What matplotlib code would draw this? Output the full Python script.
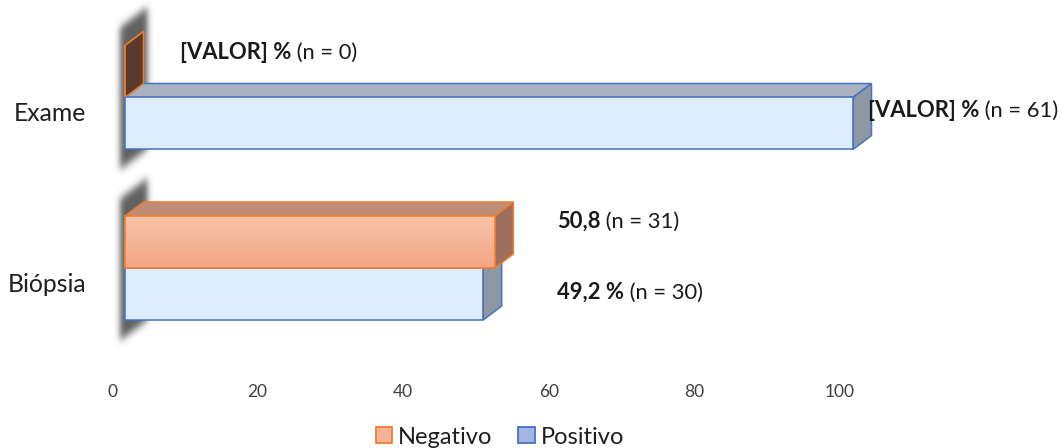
import numpy as np
import matplotlib
matplotlib.use("Agg")
import matplotlib.pyplot as plt
from matplotlib.patches import Polygon, Rectangle, Patch
from matplotlib.transforms import ScaledTranslation

# ---------------- data ----------------
categories = ["Biópsia", "Exame"]
negativo = [50.8, 0.0]
positivo = [49.2, 100.0]
neg_bold = ["50,8", "[VALOR] %"]
neg_rest = [" (n = 31)", " (n = 0)"]
pos_bold = ["49,2 %", "[VALOR] %"]
pos_rest = [" (n = 30)", " (n = 61)"]
xticks = [0, 20, 40, 60, 80, 100]
series_names = ["Negativo", "Positivo"]

# ---------------- style ----------------
FONT = "Lato"
plt.rcParams["font.family"] = [FONT, "DejaVu Sans"]
W, H, DPI = 10.61, 4.48, 100
fig = plt.figure(figsize=(W, H), dpi=DPI)
PXW, PXH = W * DPI, H * DPI

# axes placement (pixels from top-left)
ax_l, ax_r, ax_t, ax_b = 125, 853, 10, 360
ax = fig.add_axes([ax_l / PXW, 1 - ax_b / PXH, (ax_r - ax_l) / PXW, (ax_b - ax_t) / PXH])
cat_px = 170.5            # pixels per category unit
cat0_px = 268             # pixel row of first category centre
ax.set_xlim(0, 100)
ax.set_ylim((cat0_px - ax_b) / cat_px, (cat0_px - ax_t) / cat_px)
for s in ax.spines.values():
    s.set_visible(False)

xpx = (ax_r - ax_l) / 100.0
DX_PX, DY_PX = 18.5, 14.0
depth_x = DX_PX / xpx
depth_y = DY_PX / cat_px
bar_h = 52.0 / cat_px

neg_edge = "#ED7D31"
neg_top = "#BF8C77"
neg_side = "#9E705C"
neg_side_zero = "#5C3A2B"
pos_face = "#DFECFC"
pos_edge = "#4472C4"
pos_top = "#A9B3BF"
pos_side = "#8E98A3"

ypos = np.arange(len(categories))


def blur1d(a, sigma, axis):
    r = int(3 * sigma) + 1
    k = np.exp(-0.5 * (np.arange(-r, r + 1) / sigma) ** 2)
    k /= k.sum()
    return np.apply_along_axis(lambda m: np.convolve(m, k, mode="same"), axis, a)


def shadow(front_bottom, front_top):
    # soft shadow of the bar group's left cap (pixel-space construction)
    step = 0.5
    u = np.arange(-20, 40, step)                       # px right of bar origin
    ybot_px = front_bottom * cat_px - 40
    ytop_px = front_top * cat_px + DY_PX + 50
    v = np.arange(ybot_px, ytop_px, step)              # px upward (data*cat_px)
    U, V = np.meshgrid(u, v)
    slope = DY_PX / DX_PX
    top = front_top * cat_px + 21 + U * slope
    bot = front_bottom * cat_px - 17 + U * slope
    mask = ((U >= -5) & (U <= 22) & (V <= top) & (V >= bot)).astype(float)
    mask = blur1d(mask, 3.0 / step, 1)
    mask = blur1d(mask, 4.0 / step, 0)
    img = np.zeros(mask.shape + (4,))
    img[..., :3] = 0.22
    img[..., 3] = mask * 0.8
    im = ax.imshow(img, extent=(u[0] / xpx, u[-1] / xpx, v[0] / cat_px, v[-1] / cat_px),
                   origin="lower", aspect="auto", zorder=0.5, interpolation="bilinear")
    im.set_clip_on(False)


def bar3d(v, yc, face, edge, top, side, gradient=None):
    y0, y1 = yc - bar_h / 2, yc + bar_h / 2
    # top face
    ax.add_patch(Polygon([(0, y1), (v, y1), (v + depth_x, y1 + depth_y), (depth_x, y1 + depth_y)],
                         closed=True, facecolor=top, edgecolor=edge, lw=1.1, zorder=2, clip_on=False))
    # side face
    ax.add_patch(Polygon([(v, y0), (v, y1), (v + depth_x, y1 + depth_y), (v + depth_x, y0 + depth_y)],
                         closed=True, facecolor=side, edgecolor=edge, lw=1.1, zorder=2, clip_on=False))
    # front face
    r = Rectangle((0, y0), v, bar_h, facecolor=face, edgecolor=edge, lw=1.1, zorder=3, clip_on=False)
    ax.add_patch(r)
    if gradient is not None and v > 0:
        c_top, c_bot = np.array(matplotlib.colors.to_rgb(gradient[0])), np.array(matplotlib.colors.to_rgb(gradient[1]))
        tt = np.linspace(0, 1, 64)[:, None]
        img = (c_bot * (1 - tt) + c_top * tt)[:, None, :]
        im = ax.imshow(img, extent=(0, v, y0, y1), origin="lower", aspect="auto", zorder=3.1,
                       interpolation="bilinear")
        im.set_clip_path(r)
        ax.add_patch(Rectangle((0, y0), v, bar_h, facecolor="none", edgecolor=edge, lw=1.1,
                               zorder=3.2, clip_on=False))


# shadows
for i, c in enumerate(categories):
    shadow(ypos[i] - bar_h, ypos[i] + bar_h)

# bars: positive (lower) first, then negative (upper)
for i, c in enumerate(categories):
    bar3d(positivo[i], ypos[i] - bar_h / 2, pos_face, pos_edge, pos_top, pos_side)
    bar3d(negativo[i], ypos[i] + bar_h / 2, "#F6B293", neg_edge, neg_top,
          neg_side if negativo[i] > 0 else neg_side_zero,
          gradient=("#F8C3A8", "#F4A685"))

ax.set_xlim(0, 100)
ax.set_ylim((cat0_px - ax_b) / cat_px, (cat0_px - ax_t) / cat_px)

# ---------------- data labels ----------------
LAB_FS = 15.8
neg_off = [(62, 20.5), (55, 19)]
pos_off = [(74, 2), (15, 13)]


def label(v, yc, bold, rest, off):
    t1 = ax.annotate(bold, xy=(v, yc), xytext=off, textcoords="offset pixels",
                     ha="left", va="center", fontsize=LAB_FS, fontweight="bold",
                     color="#1A1A1A", annotation_clip=False, zorder=5)
    ax.annotate(rest, xy=(1, 0), xycoords=t1, ha="left", va="bottom",
                fontsize=LAB_FS, color="#1A1A1A", annotation_clip=False, zorder=5)


for i in range(len(categories)):
    label(negativo[i], ypos[i] + bar_h / 2, neg_bold[i], neg_rest[i], neg_off[i])
    label(positivo[i], ypos[i] - bar_h / 2, pos_bold[i], pos_rest[i], pos_off[i])

# ---------------- axes ticks ----------------
ax.set_xticks(xticks)
ax.set_xticklabels([str(t) for t in xticks], fontsize=12.5, color="#404040")
ax.tick_params(axis="x", length=0, pad=17)
for lab in ax.get_xticklabels():
    lab.set_transform(lab.get_transform() + ScaledTranslation(-13 / DPI, 0, fig.dpi_scale_trans))

ax.set_yticks(ypos)
ax.set_yticklabels(categories, fontsize=17.8, color="#1F1F1F")
ax.tick_params(axis="y", length=0, pad=28)
for lab in ax.get_yticklabels():
    lab.set_transform(lab.get_transform() + ScaledTranslation(0, -14 / DPI, fig.dpi_scale_trans))

# ---------------- legend ----------------
handles = [Patch(facecolor="#F5B294", edgecolor=neg_edge, lw=1.3),
           Patch(facecolor="#A3B5E3", edgecolor=pos_edge, lw=1.3)]
leg = fig.legend(handles, series_names, loc="center", bbox_to_anchor=(500 / PXW, 1 - 437 / PXH),
                 ncol=2, frameon=False, fontsize=17, handlelength=0.7, handleheight=0.7,
                 handletextpad=0.25, columnspacing=1.1, borderaxespad=0)
for t in leg.get_texts():
    t.set_color("#1F1F1F")

fig.savefig("out.png", dpi=DPI)
